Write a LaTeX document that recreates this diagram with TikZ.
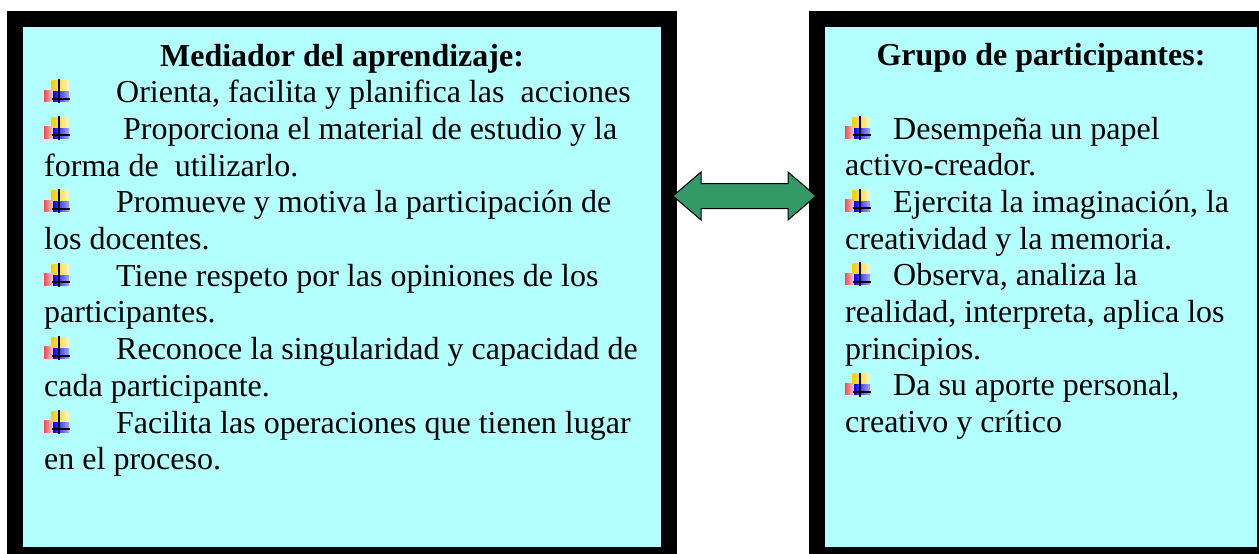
\documentclass[tikz,border=0pt]{standalone}
\usepackage{ifthen}
\usepackage{fontspec}
\setmainfont{Liberation Serif}

\definecolor{celeste}{RGB}{179,255,255}
\definecolor{verde}{RGB}{51,153,102}
\definecolor{oro}{RGB}{255,204,0}
\definecolor{rojo}{RGB}{255,70,80}
\definecolor{azul}{RGB}{0,0,255}

\tikzset{
    caja/.style={draw=black, line width=16pt, fill=celeste, inner sep=0pt},
    texto/.style={inner sep=0pt, anchor=base west, font=\fontsize{32}{36.7}\selectfont},
    titulo/.style={inner sep=0pt, anchor=base, font=\fontsize{32}{36.7}\selectfont\bfseries},
    flecha/.style={draw=black, line width=1pt, fill=verde, line join=miter},
}

\begin{document}
\begin{tikzpicture}[x=1pt, y=-1pt]

    % Page size
    \useasboundingbox (0,0) rectangle (1259,554);
    \clip (0,0) rectangle (1259,554);

    % Bullet: small coloured squares with a cross
    \def\vineta#1#2{%
        \shade[left color=oro, right color=oro!25] (#1+7.7, #2-22) rectangle (#1+24.3, #2-11);
        \shade[left color=rojo, right color=rojo!25] (#1, #2-12.7) rectangle (#1+9, #2-1);
        \shade[left color=azul, right color=azul!35] (#1+9, #2-11) rectangle (#1+25, #2-1);
        \draw[line width=2pt] (#1+15.3, #2-23.4) -- (#1+15.3, #2+0.6);
        \draw[line width=2pt] (#1+7.7, #2-4) -- (#1+26, #2-4);
    }

    % Boxes
    \node[caja, minimum width=654pt, minimum height=536pt] (mediador) at (342,287) {};
    \node[caja, minimum width=448pt, minimum height=536pt] (grupo) at (1041,287) {};

    % Double arrow between the boxes
    \coordinate (fi) at (673,196);
    \coordinate (fd) at (816,196);
    \draw[flecha] (fi) -- ++(28,-24) -- ++(0,11.5) -- ++(87,0) -- ++(0,-11.5) -- (fd)
        -- ++(-28,24) -- ++(0,-11.5) -- ++(-87,0) -- ++(0,11.5) -- cycle;

    % Left box
    \node[titulo] (tituloM) at (342,66) {Mediador del aprendizaje:};
    \foreach \x/\t [count=\i from 0] in {
        116/{Orienta, facilita y planifica las~ acciones},
        123/{Proporciona el material de estudio y la},
        44/{forma de~ utilizarlo.},
        116/{Promueve y motiva la participación de},
        44/{los docentes.},
        116/{Tiene respeto por las opiniones de los},
        44/{participantes.},
        116/{Reconoce la singularidad y capacidad de},
        44/{cada participante.},
        116/{Facilita las operaciones que tienen lugar},
        44/{en el proceso.}}{
        \node[texto] (m\i) at (\x, 102.7+36.7*\i) {\t};
        \ifthenelse{ \x = 44 }{}{\vineta{44}{102.7+36.7*\i}}
    }

    % Right box
    \node[titulo] (tituloG) at (1041,65) {Grupo de participantes:};
    \foreach \x/\t [count=\i from 0] in {
        893/{Desempeña un papel},
        845/{activo-creador.},
        893/{Ejercita la imaginación, la},
        845/{creatividad y la memoria.},
        893/{Observa, analiza la},
        845/{realidad, interpreta, aplica los},
        845/{principios.},
        893/{Da su aporte personal,},
        845/{creativo y crítico}}{
        \node[texto] (g\i) at (\x, 139+36.7*\i) {\t};
        \ifthenelse{ \x = 845 }{}{\vineta{845}{139+36.7*\i}}
    }

\end{tikzpicture}
\end{document}
